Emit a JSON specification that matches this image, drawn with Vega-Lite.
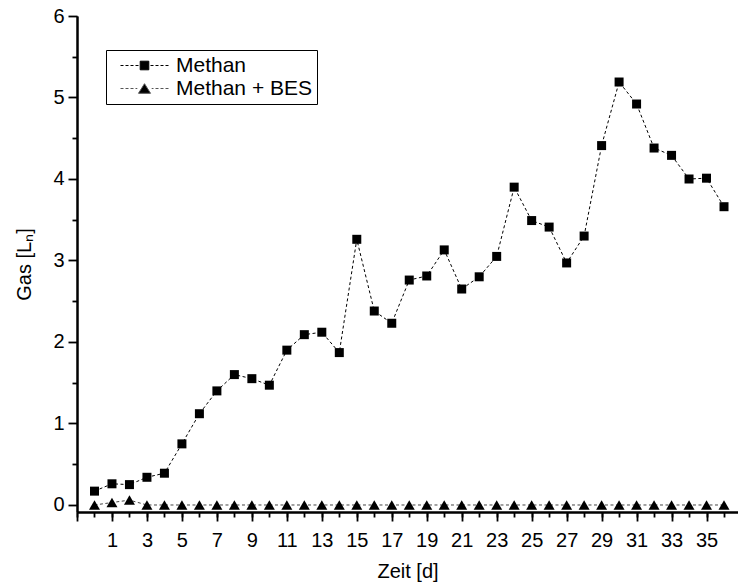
{
 "$schema": "https://vega.github.io/schema/vega-lite/v6.json",
 "width": 661,
 "height": 496,
 "autosize": "none",
 "padding": {"left": 77, "top": 16, "right": 0, "bottom": 71},
 "background": "white",
 "config": {
  "view": {"stroke": null},
  "font": "Liberation Sans",
  "axis": {"domainColor": "black", "domainWidth": 2, "tickColor": "black", "tickWidth": 1.8, "labelColor": "black", "labelFont": "Liberation Sans", "labelFontSize": 20, "titleFont": "Liberation Sans", "titleFontSize": 20, "titleFontWeight": "normal", "titleColor": "black", "grid": false}
 },
 "data": {"values": [
  {"day": 0, "gas": 0.17, "series": "Methan"},
  {"day": 1, "gas": 0.26, "series": "Methan"},
  {"day": 2, "gas": 0.25, "series": "Methan"},
  {"day": 3, "gas": 0.34, "series": "Methan"},
  {"day": 4, "gas": 0.39, "series": "Methan"},
  {"day": 5, "gas": 0.75, "series": "Methan"},
  {"day": 6, "gas": 1.12, "series": "Methan"},
  {"day": 7, "gas": 1.40, "series": "Methan"},
  {"day": 8, "gas": 1.60, "series": "Methan"},
  {"day": 9, "gas": 1.55, "series": "Methan"},
  {"day": 10, "gas": 1.47, "series": "Methan"},
  {"day": 11, "gas": 1.90, "series": "Methan"},
  {"day": 12, "gas": 2.09, "series": "Methan"},
  {"day": 13, "gas": 2.12, "series": "Methan"},
  {"day": 14, "gas": 1.87, "series": "Methan"},
  {"day": 15, "gas": 3.26, "series": "Methan"},
  {"day": 16, "gas": 2.38, "series": "Methan"},
  {"day": 17, "gas": 2.23, "series": "Methan"},
  {"day": 18, "gas": 2.76, "series": "Methan"},
  {"day": 19, "gas": 2.81, "series": "Methan"},
  {"day": 20, "gas": 3.13, "series": "Methan"},
  {"day": 21, "gas": 2.65, "series": "Methan"},
  {"day": 22, "gas": 2.80, "series": "Methan"},
  {"day": 23, "gas": 3.05, "series": "Methan"},
  {"day": 24, "gas": 3.90, "series": "Methan"},
  {"day": 25, "gas": 3.49, "series": "Methan"},
  {"day": 26, "gas": 3.41, "series": "Methan"},
  {"day": 27, "gas": 2.97, "series": "Methan"},
  {"day": 28, "gas": 3.30, "series": "Methan"},
  {"day": 29, "gas": 4.41, "series": "Methan"},
  {"day": 30, "gas": 5.19, "series": "Methan"},
  {"day": 31, "gas": 4.92, "series": "Methan"},
  {"day": 32, "gas": 4.38, "series": "Methan"},
  {"day": 33, "gas": 4.29, "series": "Methan"},
  {"day": 34, "gas": 4.00, "series": "Methan"},
  {"day": 35, "gas": 4.01, "series": "Methan"},
  {"day": 36, "gas": 3.66, "series": "Methan"},
  {"day": 0, "gas": 0.0, "series": "Methan + BES"},
  {"day": 1, "gas": 0.03, "series": "Methan + BES"},
  {"day": 2, "gas": 0.06, "series": "Methan + BES"},
  {"day": 3, "gas": 0.0, "series": "Methan + BES"},
  {"day": 4, "gas": 0.0, "series": "Methan + BES"},
  {"day": 5, "gas": 0.0, "series": "Methan + BES"},
  {"day": 6, "gas": 0.0, "series": "Methan + BES"},
  {"day": 7, "gas": 0.0, "series": "Methan + BES"},
  {"day": 8, "gas": 0.0, "series": "Methan + BES"},
  {"day": 9, "gas": 0.0, "series": "Methan + BES"},
  {"day": 10, "gas": 0.0, "series": "Methan + BES"},
  {"day": 11, "gas": 0.0, "series": "Methan + BES"},
  {"day": 12, "gas": 0.0, "series": "Methan + BES"},
  {"day": 13, "gas": 0.0, "series": "Methan + BES"},
  {"day": 14, "gas": 0.0, "series": "Methan + BES"},
  {"day": 15, "gas": 0.0, "series": "Methan + BES"},
  {"day": 16, "gas": 0.0, "series": "Methan + BES"},
  {"day": 17, "gas": 0.0, "series": "Methan + BES"},
  {"day": 18, "gas": 0.0, "series": "Methan + BES"},
  {"day": 19, "gas": 0.0, "series": "Methan + BES"},
  {"day": 20, "gas": 0.0, "series": "Methan + BES"},
  {"day": 21, "gas": 0.0, "series": "Methan + BES"},
  {"day": 22, "gas": 0.0, "series": "Methan + BES"},
  {"day": 23, "gas": 0.0, "series": "Methan + BES"},
  {"day": 24, "gas": 0.0, "series": "Methan + BES"},
  {"day": 25, "gas": 0.0, "series": "Methan + BES"},
  {"day": 26, "gas": 0.0, "series": "Methan + BES"},
  {"day": 27, "gas": 0.0, "series": "Methan + BES"},
  {"day": 28, "gas": 0.0, "series": "Methan + BES"},
  {"day": 29, "gas": 0.0, "series": "Methan + BES"},
  {"day": 30, "gas": 0.0, "series": "Methan + BES"},
  {"day": 31, "gas": 0.0, "series": "Methan + BES"},
  {"day": 32, "gas": 0.0, "series": "Methan + BES"},
  {"day": 33, "gas": 0.0, "series": "Methan + BES"},
  {"day": 34, "gas": 0.0, "series": "Methan + BES"},
  {"day": 35, "gas": 0.0, "series": "Methan + BES"},
  {"day": 36, "gas": 0.0, "series": "Methan + BES"}
 ]},
 "layer": [
  {
   "mark": {"type": "line", "strokeWidth": 1, "strokeDash": [3, 2.5]},
   "encoding": {
    "x": {"field": "day", "type": "quantitative", "scale": {"domain": [-1, 36.8], "nice": false, "zero": false},
     "axis": {"orient": "bottom", "values": [-1,0,1,2,3,4,5,6,7,8,9,10,11,12,13,14,15,16,17,18,19,20,21,22,23,24,25,26,27,28,29,30,31,32,33,34,35,36], "labels": false, "tickSize": 5, "title": null}},
    "y": {"field": "gas", "type": "quantitative", "scale": {"domain": [-0.086, 6], "nice": false, "zero": false},
     "axis": {"orient": "left", "values": [0.5,1.5,2.5,3.5,4.5,5.5], "labels": false, "tickSize": 5, "title": null}},
    "stroke": {"field": "series", "type": "nominal", "scale": {"domain": ["Methan", "Methan + BES"], "range": ["black", "#444444"]}, "legend": null}
   }
  },
  {
   "mark": {"type": "point", "filled": true, "color": "black", "opacity": 1},
   "encoding": {
    "x": {"field": "day", "type": "quantitative", "scale": {"domain": [-1, 36.8], "nice": false, "zero": false},
     "axis": {"orient": "bottom", "values": [-1,1,3,5,7,9,11,13,15,17,19,21,23,25,27,29,31,33,35], "tickSize": 9, "labelExpr": "datum.value < 0 ? '' : datum.label", "labelPadding": 9, "title": "Zeit [d]", "titlePadding": 11}},
    "y": {"field": "gas", "type": "quantitative", "scale": {"domain": [-0.086, 6], "nice": false, "zero": false},
     "axis": {"orient": "left", "values": [0,1,2,3,4,5,6], "tickSize": 9, "labelPadding": 4, "title": "Gas [Lₙ]", "titlePadding": 18}},
    "shape": {"field": "series", "type": "nominal", "scale": {"domain": ["Methan", "Methan + BES"], "range": ["square", "triangle-up"]}, "legend": null},
    "size": {"field": "series", "type": "nominal", "scale": {"domain": ["Methan", "Methan + BES"], "range": [81, 121]}, "legend": null}
   }
  },
  {
   "transform": [{"filter": "datum.day == 0"}],
   "mark": {"type": "point", "filled": true, "color": "black", "opacity": 0, "size": 100, "strokeWidth": 1},
   "encoding": {
    "x": {"field": "day", "type": "quantitative", "scale": {"domain": [-1, 36.8], "nice": false, "zero": false}, "axis": null},
    "y": {"field": "gas", "type": "quantitative", "scale": {"domain": [-0.086, 6], "nice": false, "zero": false}, "axis": null},
    "shape": {"field": "series", "type": "nominal",
     "scale": {"domain": ["Methan", "Methan + BES"], "range": [
      "M-4.8,0L-4.2,0M-3.8,0L-3.2,0M-2.8,0L-2.2,0M-1.8,0L-1.2,0M1.2,0L1.8,0M2.2,0L2.8,0M3.2,0L3.8,0M4.2,0L4.8,0M-0.86,-0.86L0.86,-0.86L0.86,0.86L-0.86,0.86Z",
      "M-4.8,0L-4.2,0M-3.8,0L-3.2,0M-2.8,0L-2.2,0M-1.8,0L-1.44,0M1.44,0L1.8,0M2.2,0L2.8,0M3.2,0L3.8,0M4.2,0L4.8,0M0,-0.96L1.2,0.96L-1.2,0.96Z"
     ]},
     "legend": {"title": null, "orient": "none", "legendX": 29, "legendY": 34, "symbolOpacity": 1, "symbolSize": 100, "symbolStrokeWidth": 1, "symbolFillColor": "black", "symbolOffset": 23, "strokeColor": "black", "fillColor": "white", "padding": 5, "labelFontSize": 21, "labelFont": "Liberation Sans", "labelColor": "black", "labelOffset": 21, "rowPadding": 1}},
    "stroke": {"field": "series", "type": "nominal", "scale": {"domain": ["Methan", "Methan + BES"], "range": ["black", "#555555"]},
     "legend": {"title": null, "orient": "none", "legendX": 29, "legendY": 34, "symbolOpacity": 1, "symbolSize": 100, "symbolStrokeWidth": 1, "symbolFillColor": "black", "symbolOffset": 23, "strokeColor": "black", "fillColor": "white", "padding": 5, "labelFontSize": 21, "labelFont": "Liberation Sans", "labelColor": "black", "labelOffset": 21, "rowPadding": 1}}
   }
  }
 ],
 "resolve": {"scale": {"shape": "independent", "size": "independent", "stroke": "independent"}, "axis": {"x": "independent", "y": "independent"}}
}
